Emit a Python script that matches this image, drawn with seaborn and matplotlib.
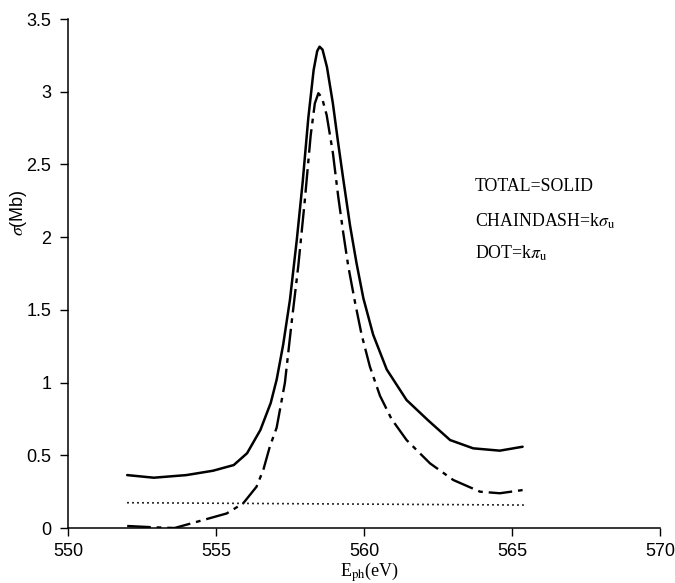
import matplotlib
matplotlib.use("Agg")
import matplotlib.pyplot as plt
import seaborn as sns

# ---- data ----
total_x = [552.0, 552.9, 554.0, 554.9, 555.6, 556.05, 556.5, 556.85, 557.05, 557.27,
           557.50, 557.73, 557.93, 558.12, 558.30, 558.42, 558.50, 558.60, 558.75, 558.95,
           559.12, 559.30, 559.53, 559.75, 559.98, 560.31, 560.77, 561.44, 562.17, 562.91,
           563.69, 564.59, 565.36]
total_y = [0.364, 0.346, 0.364, 0.394, 0.433, 0.514, 0.674, 0.86, 1.02, 1.26,
           1.57, 1.98, 2.38, 2.82, 3.15, 3.28, 3.31, 3.29, 3.17, 2.92,
           2.66, 2.40, 2.08, 1.82, 1.58, 1.33, 1.09, 0.88, 0.74, 0.605,
           0.548, 0.532, 0.559]

sigma_x = [552.0, 552.9, 553.6, 554.57, 555.36, 555.92, 556.37, 556.6, 556.82, 557.05,
           557.33, 557.56, 557.78, 558.00, 558.20, 558.34, 558.46, 558.58, 558.74, 558.95,
           559.13, 559.30, 559.47, 559.70, 559.92, 560.20, 560.54, 560.93, 561.44, 562.23,
           563.02, 563.92, 564.59, 565.36]
sigma_y = [0.014, 0.005, 0.0, 0.055, 0.10, 0.17, 0.284, 0.40, 0.56, 0.69,
           1.00, 1.42, 1.80, 2.25, 2.70, 2.92, 2.99, 2.96, 2.84, 2.58,
           2.28, 2.03, 1.80, 1.55, 1.33, 1.11, 0.91, 0.75, 0.605, 0.445,
           0.33, 0.25, 0.239, 0.261]

pi_x = [552.0, 565.4]
pi_y = [0.174, 0.158]

x_ticks = [550, 555, 560, 565, 570]
y_ticks = [0, 0.5, 1, 1.5, 2, 2.5, 3, 3.5]
y_tick_labels = ["0", "0.5", "1", "1.5", "2", "2.5", "3", "3.5"]

legend_lines = ["TOTAL=SOLID", r"CHAINDASH=k$\sigma_{\rm u}$", r"DOT=k$\pi_{\rm u}$"]

# ---- style ----
sns.set_theme(style="ticks")
plt.rcParams["font.family"] = ["Liberation Sans", "DejaVu Sans"]
plt.rcParams["mathtext.fontset"] = "stix"

fig = plt.figure(figsize=(6.75, 5.83), dpi=100)
ax = fig.add_axes([0.1007, 0.0943, 0.877, 0.873])

sns.lineplot(x=total_x, y=total_y, ax=ax, color="black", lw=1.8,
             estimator=None, sort=False)
sns.lineplot(x=sigma_x, y=sigma_y, ax=ax, color="black", lw=1.7,
             estimator=None, sort=False, linestyle=(0, (10, 2.5, 2, 2.5)))
sns.lineplot(x=pi_x, y=pi_y, ax=ax, color="black", lw=1.2,
             estimator=None, sort=False, linestyle=(0, (1, 2)))

ax.set_xlim(550, 570)
ax.set_ylim(0, 3.5)
ax.set_xticks(x_ticks)
ax.set_xticklabels([str(v) for v in x_ticks])
ax.set_yticks(y_ticks)
ax.set_yticklabels(y_tick_labels)
ax.tick_params(axis="both", direction="out", length=6, width=1, color="black",
               labelsize=13, labelcolor="black")
ax.tick_params(axis="x", pad=5)
ax.tick_params(axis="y", pad=6)

for s in ["top", "right"]:
    ax.spines[s].set_visible(False)
for s in ["left", "bottom"]:
    ax.spines[s].set_color("black")
    ax.spines[s].set_linewidth(1.1)

ax.set_ylabel(r"$\sigma$(Mb)", fontsize=13, color="black")
ax.yaxis.set_label_coords(-0.066, 0.62)
ax.set_xlabel(r"E$_{\rm ph}$(eV)", fontsize=13, color="black",
              family="Liberation Serif")
ax.xaxis.set_label_coords(0.51, -0.064)

ys = [2.35, 2.11, 1.89]
for txt, yy in zip(legend_lines, ys):
    ax.text(563.75, yy, txt, fontsize=12.8, family="Liberation Serif",
            color="black", va="center", ha="left")

fig.savefig("out.png", dpi=100)
